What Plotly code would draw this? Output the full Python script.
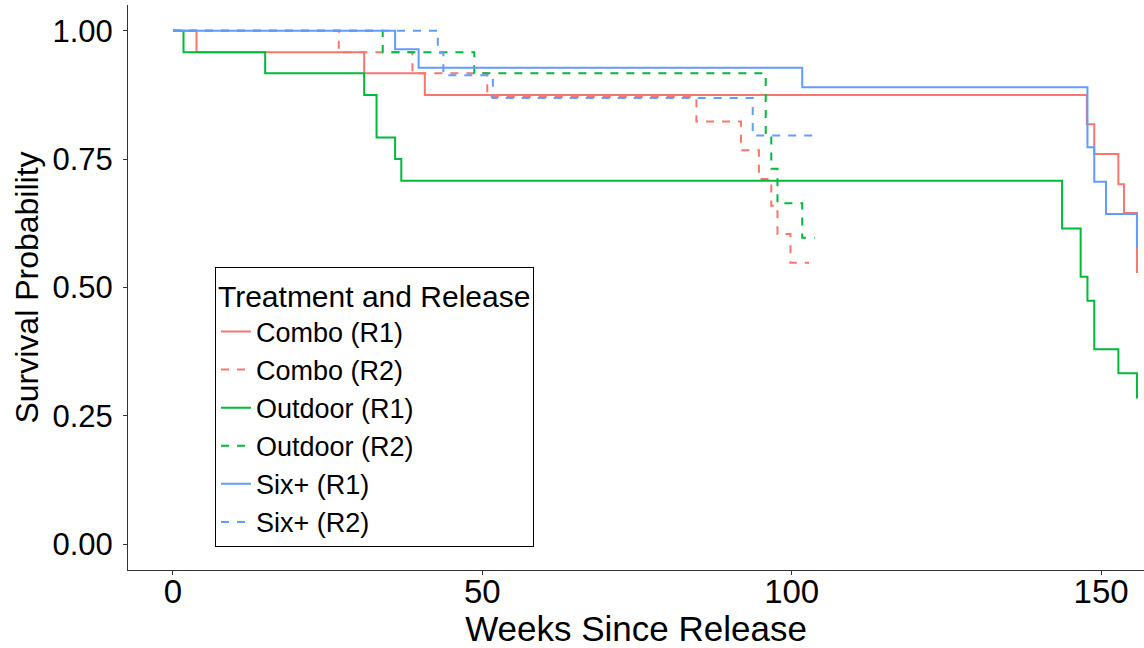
import plotly.graph_objects as go

# Kaplan-Meier step data (weeks, survival probability)
combo_r1_t = [0, 3.8, 30.9, 40.7, 147.7, 148.9, 152.8, 153.7, 155.8]
combo_r1_s = [1.0, 0.958, 0.917, 0.875, 0.818, 0.760, 0.701, 0.645, 0.528]

combo_r2_t = [0, 26.8, 38.7, 50.8, 84.6, 91.8, 94.7, 96.7, 97.7, 99.8, 102.8]
combo_r2_s = [1.0, 0.958, 0.917, 0.871, 0.823, 0.767, 0.711, 0.659, 0.604, 0.548, 0.548]

outdoor_r1_t = [0, 1.7, 14.9, 30.9, 32.9, 35.9, 36.9, 143.7, 146.7, 147.8, 148.9, 152.8, 155.8]
outdoor_r1_s = [1.0, 0.958, 0.917, 0.875, 0.792, 0.750, 0.708, 0.615, 0.521, 0.474, 0.380, 0.333, 0.284]

outdoor_r2_t = [0, 33.9, 48.7, 95.8, 96.7, 97.7, 101.7, 103.7]
outdoor_r2_s = [1.0, 0.958, 0.917, 0.797, 0.731, 0.664, 0.597, 0.597]

six_r1_t = [0, 35.9, 39.7, 101.7, 147.8, 148.9, 150.8, 155.8]
six_r1_s = [1.0, 0.964, 0.928, 0.890, 0.773, 0.706, 0.643, 0.578]

six_r2_t = [0, 42.8, 43.7, 51.7, 93.7, 103.7]
six_r2_s = [1.0, 0.957, 0.913, 0.869, 0.796, 0.796]

series_names = ["Combo (R1)", "Combo (R2)", "Outdoor (R1)", "Outdoor (R2)", "Six+ (R1)", "Six+ (R2)"]
series_t = [combo_r1_t, combo_r2_t, outdoor_r1_t, outdoor_r2_t, six_r1_t, six_r2_t]
series_s = [combo_r1_s, combo_r2_s, outdoor_r1_s, outdoor_r2_s, six_r1_s, six_r2_s]
series_colors = ["#F8766D", "#F8766D", "#00BA38", "#00BA38", "#619CFF", "#619CFF"]
series_dash = ["solid", "8px,8px", "solid", "8px,8px", "solid", "8px,8px"]

x_ticks = [0, 50, 100, 150]
y_ticks = [0.0, 0.25, 0.5, 0.75, 1.0]
y_tick_text = ["0.00", "0.25", "0.50", "0.75", "1.00"]

FONT = "Arial, Liberation Sans, sans-serif"

fig = go.Figure()
for name, t, s, c, d in zip(series_names, series_t, series_s, series_colors, series_dash):
    fig.add_trace(go.Scatter(
        x=t, y=s, mode="lines", name=name,
        line=dict(shape="hv", color=c, width=2, dash=d),
    ))

fig.update_layout(
    width=1144, height=648,
    margin=dict(l=128, r=0, t=5, b=78, autoexpand=False),
    paper_bgcolor="white", plot_bgcolor="white",
    font=dict(family=FONT, color="black"),
    showlegend=True,
    legend=dict(
        x=0.0856, y=0.04, xanchor="left", yanchor="bottom",
        bgcolor="white", bordercolor="black", borderwidth=1,
        font=dict(size=27, family=FONT, color="black"),
        title=dict(text="Treatment and Release", font=dict(size=30, family=FONT, color="black")),
        itemwidth=30, tracegroupgap=0,
    ),
)

fig.update_xaxes(
    range=[-7.27, 156.94], tickvals=x_ticks, ticktext=[str(v) for v in x_ticks],
    showgrid=False, zeroline=False, showline=True, linecolor="#333333", linewidth=1,
    ticks="outside", ticklen=4, tickcolor="#333333", automargin=False,
    tickfont=dict(size=33, family=FONT, color="black"), ticklabelstandoff=-12,
    title=dict(text="Weeks Since Release", font=dict(size=35, family=FONT, color="black"), standoff=4),
)
fig.update_yaxes(
    range=[-0.05, 1.05], tickvals=y_ticks, ticktext=y_tick_text,
    showgrid=False, zeroline=False, showline=True, linecolor="#333333", linewidth=1,
    ticks="outside", ticklen=4, tickcolor="#333333", automargin=False,
    tickfont=dict(size=31, family=FONT, color="black"), ticklabelstandoff=4,
    title=dict(text="Survival Probability", font=dict(size=32, family=FONT, color="black"), standoff=4),
)

fig.write_html(
    "out.html",
    config={"displayModeBar": False},
    post_script="document.body.style.margin='0';document.body.style.overflow='hidden';",
)
